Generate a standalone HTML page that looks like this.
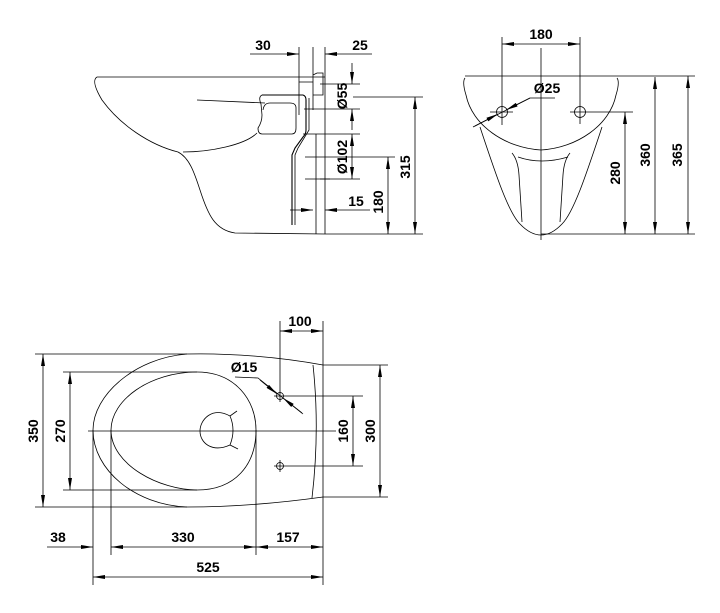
<!DOCTYPE html>
<html><head><meta charset="utf-8"><style>
html,body{margin:0;padding:0;background:#fff;}
svg{display:block}
text{font-family:"Liberation Sans",Arial,sans-serif;font-weight:bold;font-size:14px;fill:#000}
</style></head><body>
<svg width="720" height="613" viewBox="0 0 720 613" xmlns="http://www.w3.org/2000/svg">
<defs>
<marker id="a" viewBox="0 0 12 4" refX="12" refY="2" markerWidth="12" markerHeight="4" markerUnits="userSpaceOnUse" orient="auto-start-reverse"><path d="M0,0 L12,2 L0,4 Z" fill="#000"/></marker>
</defs>
<g fill="none" stroke="#000" stroke-width="0.8">
<!-- ============ SIDE VIEW ============ -->
<path d="M97,77 L325,77"/>
<path d="M97,77 C92,80 96,90 102,100 C120,125 150,145 178,152 C190,158 195,175 200,190 C208,215 215,230 235,233 L325,234"/>
<path d="M183,152 C210,152 245,145 257,133"/>
<path d="M197,100 L265,103"/>
<path d="M262,95 L303,95 Q306,96 306,100 L306,130 Q306,134 303,137 L295,148 L292,155 L292,225" stroke-width="1.1"/>
<path d="M262,95 Q258,97 261,104 L262,115 Q262,122 258,128 Q258,134 262,134 L292,134 Q296,134 296,128 L296,108 Q296,103 290,103 L270,103 Q264,103 263,110" />
<path d="M309,98 L309,130 L298,148 L295,155 L295,225"/>
<path d="M299,47 L299,115 M313,47 L313,110 M325,47 L325,234 M313,75 L317,73 L323,73 L323,95 L313,95"/>
<path d="M299,82 L313,82 M304,109 L320,109 M303,134 L320,134 M305,157 L330,157 M305,179 L330,179 M303,134 L316,134 L316,234"/>
<line x1="250" y1="54" x2="299" y2="54" marker-end="url(#a)"/>
<line x1="372" y1="54" x2="325" y2="54" marker-end="url(#a)"/>
<line x1="320" y1="84" x2="360" y2="84"/><line x1="320" y1="109" x2="360" y2="109"/><line x1="320" y1="134" x2="360" y2="134"/><line x1="320" y1="179" x2="360" y2="179"/>
<line x1="352" y1="63" x2="352" y2="84" marker-end="url(#a)"/>
<line x1="352" y1="130" x2="352" y2="109" marker-end="url(#a)"/>
<line x1="352" y1="134" x2="352" y2="179" marker-start="url(#a)" marker-end="url(#a)"/>
<line x1="353" y1="97" x2="423" y2="97"/>
<line x1="330" y1="157" x2="395" y2="157"/>
<line x1="325" y1="234" x2="423" y2="234"/>
<line x1="415" y1="97" x2="415" y2="234" marker-start="url(#a)" marker-end="url(#a)"/>
<line x1="388" y1="157" x2="388" y2="234" marker-start="url(#a)" marker-end="url(#a)"/>
<line x1="290" y1="210" x2="313" y2="210" marker-end="url(#a)"/>
<line x1="370" y1="210" x2="325" y2="210" marker-end="url(#a)"/>
<!-- ============ FRONT VIEW ============ -->
<path d="M465,76 L695,76"/>
<path d="M465,78 Q462,82 466,95 C472,125 505,148 541,150 C577,148 610,125 616,95 Q620,82 617,78"/>
<path d="M480,127 C495,172 508,212 520,224 Q541,246 562,224 C574,212 587,172 602,127"/>
<path d="M512,153 Q518,160 519,175 L522,222 M570,153 Q564,160 563,175 L560,222"/>
<path d="M518,157 Q541,165 568,157"/>
<line x1="541" y1="48" x2="541" y2="240"/>
<circle cx="502" cy="112" r="5.5"/><circle cx="580" cy="112" r="5.5"/>
<path d="M490,112 L513,112 M570,112 L633,112 M502,37 L502,125 M580,37 L580,124"/>
<line x1="502" y1="44" x2="580" y2="44" marker-start="url(#a)" marker-end="url(#a)"/>
<path d="M555,98 L530,98 L473,127"/>
<line x1="475" y1="126" x2="498" y2="114" marker-end="url(#a)"/>
<line x1="530" y1="98" x2="506" y2="110" marker-end="url(#a)"/>
<line x1="541" y1="234" x2="695" y2="234"/>
<line x1="625" y1="112" x2="625" y2="234" marker-start="url(#a)" marker-end="url(#a)"/>
<line x1="655" y1="77" x2="655" y2="234" marker-start="url(#a)" marker-end="url(#a)"/>
<line x1="688" y1="76" x2="688" y2="234" marker-start="url(#a)" marker-end="url(#a)"/>
<!-- ============ TOP VIEW ============ -->
<path d="M35,354 L187,354 C230,353 280,357 323,365 L388,365"/>
<path d="M35,507 L187,507 C230,507 280,503 323,497 L388,497"/>
<path d="M187,354 C135,358 93,395 93,430 C93,470 135,505 187,507"/>
<path d="M323,365 L323,497 M313,365 Q320,430 312,498"/>
<path d="M197,372 C150,372 111,400 111,430 C111,465 160,490 197,490 C235,490 256,465 256,430 C256,400 235,372 197,372 Z"/>
<path d="M63,372 L197,372 M63,490 L197,490"/>
<path d="M237,411 L230,416 C212,406 200,420 200,431 C200,443 212,453 230,445 L238,449 M230,416 Q236,430 230,445"/>
<line x1="88" y1="431" x2="336" y2="431"/>
<circle cx="280" cy="396" r="3.5"/><circle cx="280" cy="466" r="3.5"/>
<path d="M274,396 L363,396 M274,466 L363,466 M280,390 L280,402 M280,460 L280,472 M280,321 L280,392 M323,321 L323,365"/>
<line x1="280" y1="331" x2="323" y2="331" marker-start="url(#a)" marker-end="url(#a)"/>
<path d="M235,377 L258,378 L303,414"/>
<line x1="260" y1="380" x2="277" y2="394" marker-end="url(#a)"/>
<line x1="302" y1="413" x2="283" y2="398" marker-end="url(#a)"/>
<line x1="43" y1="354" x2="43" y2="507" marker-start="url(#a)" marker-end="url(#a)"/>
<line x1="70" y1="372" x2="70" y2="490" marker-start="url(#a)" marker-end="url(#a)"/>
<line x1="353" y1="396" x2="353" y2="466" marker-start="url(#a)" marker-end="url(#a)"/>
<line x1="380" y1="365" x2="380" y2="497" marker-start="url(#a)" marker-end="url(#a)"/>
<path d="M93,430 L93,585 M111,430 L111,555 M256,430 L256,555 M323,497 L323,585"/>
<line x1="47" y1="547" x2="93" y2="547" marker-end="url(#a)"/>
<line x1="111" y1="547" x2="256" y2="547" marker-start="url(#a)" marker-end="url(#a)"/>
<line x1="256" y1="547" x2="323" y2="547" marker-start="url(#a)" marker-end="url(#a)"/>
<line x1="93" y1="577" x2="323" y2="577" marker-start="url(#a)" marker-end="url(#a)"/>
</g>
<!-- text -->
<text x="263" y="50" text-anchor="middle">30</text>
<text x="360" y="50" text-anchor="middle">25</text>
<text transform="translate(347,96) rotate(-90)" text-anchor="middle">Ø55</text>
<text transform="translate(347,157) rotate(-90)" text-anchor="middle">Ø102</text>
<text transform="translate(410,167) rotate(-90)" text-anchor="middle">315</text>
<text transform="translate(383,202) rotate(-90)" text-anchor="middle">180</text>
<text x="356" y="206" text-anchor="middle">15</text>
<text x="541" y="39" text-anchor="middle">180</text>
<text x="547" y="93" text-anchor="middle">Ø25</text>
<text transform="translate(620,173) rotate(-90)" text-anchor="middle">280</text>
<text transform="translate(650,155) rotate(-90)" text-anchor="middle">360</text>
<text transform="translate(682,155) rotate(-90)" text-anchor="middle">365</text>
<text x="300" y="326" text-anchor="middle">100</text>
<text x="244" y="372" text-anchor="middle">Ø15</text>
<text transform="translate(38,431) rotate(-90)" text-anchor="middle">350</text>
<text transform="translate(65,431) rotate(-90)" text-anchor="middle">270</text>
<text transform="translate(348,431) rotate(-90)" text-anchor="middle">160</text>
<text transform="translate(375,431) rotate(-90)" text-anchor="middle">300</text>
<text x="58" y="542" text-anchor="middle">38</text>
<text x="183" y="542" text-anchor="middle">330</text>
<text x="288" y="542" text-anchor="middle">157</text>
<text x="208" y="572" text-anchor="middle">525</text>
</svg>
</body></html>
